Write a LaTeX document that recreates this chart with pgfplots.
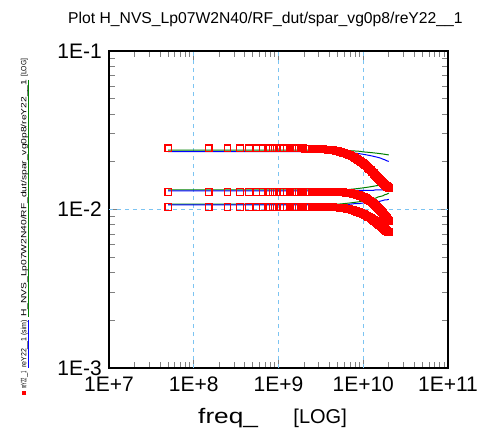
\documentclass[border=0pt]{standalone}
\usepackage{fontspec}
\setmainfont{Liberation Sans}
\usepackage{graphicx}
\usepackage{pgfplots}
\usepackage{pgfplotstable}
\pgfplotsset{compat=1.18}
\definecolor{gridblue}{HTML}{7CC4F2}
\definecolor{simgreen}{HTML}{008000}

% measured reY22, three bias points (freq in GHz)
\pgfplotstableread{
f     top     mid     bot
0.05  0.0243  0.0129  0.0104
0.15  0.0243  0.0129  0.0104
0.25  0.0243  0.0129  0.0104
0.35  0.0243  0.0129  0.0104
0.45  0.0243  0.0129  0.0104
0.55  0.0243  0.0129  0.0104
0.65  0.0243  0.0129  0.0104
0.75  0.0243  0.0129  0.0104
0.85  0.0243  0.0129  0.0104
0.95  0.0243  0.0129  0.0104
1.05  0.0243  0.0129  0.0104
1.15  0.0243  0.0129  0.0104
1.25  0.0243  0.0129  0.0104
1.35  0.0243  0.0129  0.0104
1.45  0.0243  0.0129  0.0104
1.55  0.0243  0.0129  0.0104
1.65  0.0243  0.0129  0.0104
1.75  0.0243  0.0129  0.0104
1.85  0.0243  0.0129  0.0104
1.95  0.0243  0.0129  0.0104
2.05  0.0242  0.0129  0.0104
2.15  0.0242  0.0129  0.0104
2.25  0.0242  0.0129  0.0104
2.35  0.0242  0.0129  0.0104
2.45  0.0242  0.0129  0.0104
2.55  0.0241  0.0129  0.0104
2.65  0.0241  0.0129  0.0104
2.75  0.0241  0.0129  0.0104
2.85  0.0241  0.0129  0.0104
2.95  0.0241  0.0129  0.0104
3.05  0.0240  0.0129  0.0104
3.15  0.0240  0.0129  0.0104
3.25  0.0240  0.0129  0.0104
3.35  0.0240  0.0129  0.0104
3.45  0.0239  0.0129  0.0104
3.55  0.0239  0.0129  0.0104
3.65  0.0239  0.0129  0.0104
3.75  0.0239  0.0129  0.0104
3.85  0.0238  0.0129  0.0104
3.95  0.0238  0.0129  0.0104
4.05  0.0238  0.0129  0.0104
4.15  0.0238  0.0129  0.0104
4.25  0.0237  0.0129  0.0104
4.35  0.0237  0.0129  0.0104
4.45  0.0237  0.0129  0.0104
4.55  0.0236  0.0129  0.0103
4.65  0.0236  0.0129  0.0103
4.75  0.0235  0.0129  0.0103
4.85  0.0235  0.0129  0.0103
4.95  0.0234  0.0129  0.0103
5.00  0.0233  0.0129  0.0103
5.25  0.02315 0.01288 0.01028
5.50  0.0230  0.01285 0.01025
5.75  0.02285 0.01283 0.01023
6.00  0.0227  0.0128  0.0102
6.25  0.02253 0.01278 0.01015
6.50  0.02235 0.01275 0.0101
6.75  0.02218 0.01273 0.01005
7.00  0.0220  0.0127  0.0100
7.25  0.0218  0.01265 0.00995
7.50  0.0216  0.0126  0.0099
7.75  0.0214  0.01255 0.00985
8.00  0.0212  0.0125  0.0098
8.25  0.0210  0.01245 0.00975
8.50  0.0208  0.0124  0.0097
8.75  0.0206  0.01235 0.00965
9.00  0.0204  0.0123  0.0096
9.25  0.0202  0.01223 0.00955
9.50  0.0200  0.01215 0.0095
9.75  0.0198  0.01208 0.00945
10.00 0.0196  0.0120  0.0094
10.25 0.01938 0.01193 0.00933
10.50 0.01915 0.01185 0.00925
10.75 0.01893 0.01178 0.00918
11.00 0.0187  0.0117  0.0091
11.25 0.0185  0.0116  0.00905
11.50 0.0183  0.0115  0.0090
11.75 0.0181  0.0114  0.00895
12.00 0.0179  0.0113  0.0089
12.25 0.0177  0.01123 0.00883
12.50 0.0175  0.01115 0.00875
12.75 0.0173  0.01108 0.00868
13.00 0.0171  0.0110  0.0086
13.25 0.01693 0.0109  0.00855
13.50 0.01675 0.0108  0.0085
13.75 0.01658 0.0107  0.00845
14.00 0.0164  0.0106  0.0084
14.25 0.01625 0.0105  0.00833
14.50 0.0161  0.0104  0.00825
14.75 0.01595 0.0103  0.00818
15.00 0.0158  0.0102  0.0081
15.25 0.01565 0.0101  0.00805
15.50 0.0155  0.0100  0.0080
15.75 0.01535 0.0099  0.00795
16.00 0.0152  0.0098  0.0079
16.25 0.01508 0.00973 0.00785
16.50 0.01495 0.00965 0.0078
16.75 0.01483 0.00958 0.00775
17.00 0.0147  0.0095  0.0077
17.25 0.0146  0.0094  0.00765
17.50 0.0145  0.0093  0.0076
17.75 0.0144  0.0092  0.00755
18.00 0.0143  0.0091  0.0075
18.25 0.01423 0.00903 0.00745
18.50 0.01415 0.00895 0.0074
18.75 0.01408 0.00888 0.00735
19.00 0.0140  0.0088  0.0073
19.25 0.01393 0.00873 0.00728
19.50 0.01385 0.00865 0.00725
19.75 0.01378 0.00858 0.00723
20.00 0.0137  0.0085  0.0072
}\meas

% simulated curves: g* green model, b* blue model
\pgfplotstableread{
f     gtop    btop    gmid    bmid    gbot    bbot
0.05  0.0237  0.0232  0.0133  0.0131  0.0108  0.0107
0.5   0.0237  0.0232  0.0133  0.0131  0.0108  0.0107
1     0.0237  0.0232  0.0133  0.0131  0.0108  0.0107
2     0.0237  0.0232  0.0133  0.0131  0.0108  0.0107
3     0.0237  0.0232  0.0133  0.0131  0.0108  0.0107
4     0.0237  0.0232  0.0133  0.0131  0.0108  0.0107
5     0.0237  0.0231  0.0133  0.0131  0.0108  0.0107
6     0.0236  0.0230  0.0133  0.0131  0.0109  0.0107
7     0.0235  0.0229  0.0134  0.0131  0.0110  0.0108
8     0.0234  0.0227  0.0135  0.0132  0.0111  0.0109
9     0.0233  0.0225  0.0136  0.0132  0.0112  0.0109
10    0.0231  0.0223  0.0137  0.0132  0.0113  0.0110
11    0.0230  0.0221  0.0138  0.0132  0.0114  0.0110
12    0.0229  0.0219  0.0139  0.0132  0.0116  0.0111
13    0.0228  0.0217  0.0140  0.0132  0.0117  0.0111
14    0.0227  0.0215  0.0141  0.0133  0.0118  0.0112
15    0.0226  0.0213  0.0142  0.0133  0.0120  0.0112
16    0.0225  0.0211  0.0143  0.0133  0.0121  0.0113
17    0.0224  0.0208  0.0144  0.0133  0.0122  0.0114
18    0.0223  0.0206  0.0145  0.0133  0.0124  0.0115
19    0.0222  0.0203  0.0146  0.0133  0.0125  0.0115
20    0.0221  0.0201  0.0147  0.0133  0.0127  0.0116
}\sim

\newcommand{\legseg}[3]{\makebox[0pt][l]{\textcolor{#1}{\rule[-2.6pt]{#2}{1.3pt}}}\resizebox{#2}{5.5pt}{#3}}

\begin{document}
\begin{tikzpicture}
\useasboundingbox (0,0) rectangle (495pt,432pt);
\begin{axis}[
  at={(109pt,64pt)}, anchor=south west,
  scale only axis, width=339pt, height=317pt,
  xmode=log, ymode=log,
  xmin=0.01, xmax=100, ymin=1e-3, ymax=1e-1,
  xtick={0.01,0.1,1,10,100},
  xticklabels={1E+7,1E+8,1E+9,1E+10,1E+11},
  minor xtick={0.02,0.03,0.04,0.05,0.06,0.07,0.08,0.09,
               0.2,0.3,0.4,0.5,0.6,0.7,0.8,0.9,
               2,3,4,5,6,7,8,9,20,30,40,50,60,70,80,90},
  ytick={1e-3,1e-2,1e-1},
  yticklabels={1E-3,1E-2,1E-1},
  minor ytick={0.002,0.003,0.004,0.005,0.006,0.007,0.008,0.009,
               0.02,0.03,0.04,0.05,0.06,0.07,0.08,0.09},
  xtick pos=both, ytick pos=both,
  xticklabel pos=lower, yticklabel pos=left,
  tick align=inside,
  major tick length=9pt, minor tick length=6pt,
  major tick style={line width=1pt},
  minor tick style={line width=1pt},
  axis line style={black, line width=1.6pt},
  tick label style={font=\fontsize{21}{21}\selectfont},
  xticklabel style={anchor=north, inner sep=0pt, yshift=-9pt},
  yticklabel style={anchor=east, inner sep=0pt, xshift=-7pt},
]
% dashed grid at the inner decades, under the data
\draw[gridblue, line width=1.3pt, dash pattern=on 4pt off 4pt]
  (axis cs:0.1,0.001) -- (axis cs:0.1,0.1)
  (axis cs:1,0.001) -- (axis cs:1,0.1)
  (axis cs:10,0.001) -- (axis cs:10,0.1)
  (axis cs:0.01,0.01) -- (axis cs:100,0.01);
\addplot[only marks, mark=square, mark size=3.3pt,
  mark options={draw=red, line width=1.2pt}] table[x=f, y=top] {\meas};
\addplot[only marks, mark=square, mark size=3.3pt,
  mark options={draw=red, line width=1.2pt}] table[x=f, y=mid] {\meas};
\addplot[only marks, mark=square, mark size=3.3pt,
  mark options={draw=red, line width=1.2pt}] table[x=f, y=bot] {\meas};
\addplot[simgreen, line width=1pt] table[x=f, y=gtop] {\sim};
\addplot[simgreen, line width=1pt] table[x=f, y=gmid] {\sim};
\addplot[simgreen, line width=1pt] table[x=f, y=gbot] {\sim};
\addplot[blue, line width=1pt] table[x=f, y=btop] {\sim};
\addplot[blue, line width=1pt] table[x=f, y=bmid] {\sim};
\addplot[blue, line width=1pt] table[x=f, y=bbot] {\sim};
\end{axis}

\node[anchor=west, inner sep=0pt, font=\fontsize{15.7}{16}\selectfont]
  at (68pt,413pt) {Plot H\_NVS\_Lp07W2N40/RF\_dut/spar\_vg0p8/reY22\_\_1};

\node[anchor=base west, inner sep=0pt, font=\fontsize{21}{21}\selectfont]
  at (198pt,9pt) {\scalebox{1.25}[1]{freq\_}};
\node[anchor=base east, inner sep=0pt, font=\fontsize{20}{20}\selectfont]
  at (347pt,9pt) {[LOG]};

\node[rotate=90, anchor=west, inner sep=0pt, font=\fontsize{8}{8}\selectfont]
  at (25pt,37pt) {\textcolor{red}{\rule{4pt}{4pt}}\hspace{2pt}%
  \resizebox{18pt}{5.5pt}{reY22\_\_1}\hspace{3pt}%
  \legseg{blue}{48pt}{reY22\_\_1 (sim)}\hspace{3pt}%
  \legseg{simgreen}{237pt}{H\_NVS\_Lp07W2N40/RF\_dut/spar\_vg0p8/reY22\_\_1}\hspace{3pt}%
  \resizebox{18pt}{5.5pt}{[LOG]}};
\end{tikzpicture}
\end{document}
